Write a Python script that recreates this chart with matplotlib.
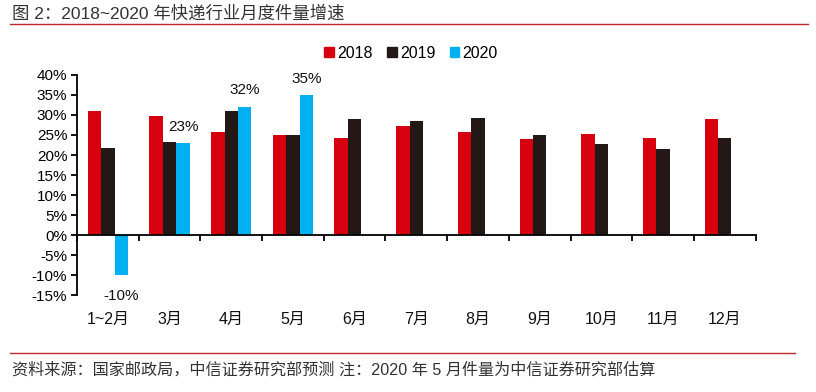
import matplotlib
matplotlib.use('Agg')
import matplotlib.pyplot as plt
from matplotlib.patches import Patch
from matplotlib.lines import Line2D
import numpy as np

plt.rcParams['font.family'] = ['Liberation Sans', 'Noto Sans CJK SC', 'DejaVu Sans']

# 数据
months = ['1~2月', '3月', '4月', '5月', '6月', '7月', '8月', '9月', '10月', '11月', '12月']
g2018 = [31.1, 29.8, 25.8, 25.0, 24.2, 27.3, 25.7, 24.1, 25.2, 24.2, 28.9]
g2019 = [21.8, 23.3, 30.9, 25.0, 29.1, 28.5, 29.2, 25.0, 22.7, 21.5, 24.2]
g2020 = [-10.0, 22.9, 32.0, 34.9]
labels2020 = ['-10%', '23%', '32%', '35%']
series = ['2018', '2019', '2020']

c_red = '#D7000F'
c_blk = '#231815'
c_blue = '#00B0F0'

fig = plt.figure(figsize=(8.16, 3.92), dpi=100)
ax = fig.add_axes([0.0944, 0.2474, 0.8316, 0.5613])

x = np.arange(len(months))
w = 0.218
ax.bar(x - w, g2018, w, color=c_red, zorder=2)
ax.bar(x, g2019, w, color=c_blk, zorder=2)
x20 = np.arange(len(g2020))
ax.bar(x20 + w, g2020, w, color=c_blue, zorder=2)

# 数据标签
for xi, v, s in zip(x20, g2020, labels2020):
    if v < 0:
        ax.annotate(s, (xi + w, v), xytext=(0, -10), textcoords='offset points',
                    ha='center', va='top', fontsize=11, color='#111111')
    else:
        ax.annotate(s, (xi + w, v), xytext=(0, 7), textcoords='offset points',
                    ha='center', va='bottom', fontsize=11, color='#111111')

ax.set_xlim(-0.5, len(months) - 0.5)
ax.set_ylim(-15, 40)
ax.set_yticks(np.arange(-15, 41, 5))
ax.set_yticklabels([f'{v}%' for v in range(-15, 41, 5)], fontsize=11)

ax.spines['top'].set_visible(False)
ax.spines['right'].set_visible(False)
ax.spines['bottom'].set_position(('data', 0))
ax.spines['bottom'].set_linewidth(1.3)
ax.spines['left'].set_linewidth(1.3)
ax.set_xticks(np.arange(len(months) + 1) - 0.5)
ax.tick_params(axis='x', direction='out', length=4, width=1.3, labelbottom=False)
ax.tick_params(axis='y', direction='out', length=4, width=1.3, pad=3)

# 月份标签放在图底部
for xi, m in zip(x, months):
    ax.text(xi, -0.075, m, transform=ax.get_xaxis_transform(), ha='center', va='top',
            fontsize=11.5, color='#111111')

handles = [Patch(color=c) for c in [c_red, c_blk, c_blue]]
fig.legend(handles, series, loc='center', bbox_to_anchor=(411 / 816, 1 - 53 / 392),
           ncol=3, frameon=False, fontsize=11.5, handlelength=0.6, handleheight=0.6,
           handletextpad=0.2, columnspacing=0.9)

# 标题和来源
fig.text(12 / 816, 1 - 13 / 392, '图 2：2018~2020 年快递行业月度件量增速', fontsize=12.5,
         color='#333333', va='center', ha='left')
fig.add_artist(Line2D([10 / 816, 808 / 816], [1 - 24 / 392] * 2, color='#C0282D', lw=1))
fig.add_artist(Line2D([10 / 816, 795 / 816], [1 - 353 / 392] * 2, color='#C0282D', lw=1))
fig.text(12 / 816, 1 - 370 / 392,
         '资料来源：国家邮政局，中信证券研究部预测 注：2020 年 5 月件量为中信证券研究部估算',
         fontsize=11.6, color='#333333', va='center', ha='left')

fig.savefig('out.png', dpi=100)
